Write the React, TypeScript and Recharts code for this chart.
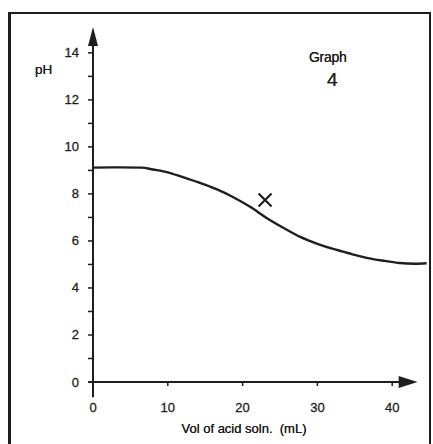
import React from "react";
import { LineChart, Line, XAxis, YAxis, ReferenceLine, ReferenceDot } from "recharts";

const volumes = [0, 3.5, 6.5, 8, 10, 12, 14.3, 16.5, 18.7, 21, 23.2, 25.5, 27.7, 30, 32.1, 34.5, 36.6, 39, 41, 43, 44.6];
const phValues = [9.12, 9.13, 9.12, 9.04, 8.92, 8.71, 8.47, 8.2, 7.87, 7.45, 6.98, 6.55, 6.17, 5.88, 5.66, 5.45, 5.28, 5.15, 5.06, 5.03, 5.05];
const xTicks = [0, 10, 20, 30, 40];
const yTicks = [0, 1, 2, 3, 4, 5, 6, 7, 8, 9, 10, 11, 12, 13, 14];
const markPoint = { x: 23.0, y: 7.74 };
const xArrowEnd = 43.4;
const yArrowEnd = 15.1;

const data = volumes.map((v, i) => ({ x: v, y: phValues[i] }));

const INK = "#1e1e1e";
const FONT = "'Liberation Sans', Arial, Helvetica, sans-serif";

const YTick = (props: any) => {
  const { x, y, payload } = props;
  const v = payload.value;
  return (
    <g>
      <line x1={x - 5} x2={x} y1={y} y2={y} stroke={INK} strokeWidth={1.5} />
      {v % 2 === 0 && (
        <text x={x - 14} y={y} dy={4.5} textAnchor="end" fontFamily={FONT} fontSize={13} fill={INK} stroke={INK} strokeWidth={0.3}>
          {v}
        </text>
      )}
    </g>
  );
};

const XTick = (props: any) => {
  const { x, y, payload } = props;
  return (
    <g>
      <line x1={x} x2={x} y1={y - 1} y2={y + 4} stroke={INK} strokeWidth={1.5} />
      <text x={x} y={y + 30} textAnchor="middle" fontFamily={FONT} fontSize={13} fill={INK} stroke={INK} strokeWidth={0.3}>
        {payload.value}
      </text>
    </g>
  );
};

const UpArrow = (props: any) => {
  const { cx, cy } = props;
  return <path d={`M${cx},${cy} L${cx - 5},${cy + 19} L${cx + 5},${cy + 19} Z`} fill={INK} />;
};

const RightArrow = (props: any) => {
  const { cx, cy } = props;
  return <path d={`M${cx},${cy} L${cx - 19},${cy - 6} L${cx - 19},${cy + 6} Z`} fill={INK} />;
};

const Cross = (props: any) => {
  const { cx, cy } = props;
  const s = 6.5;
  return (
    <path
      d={`M${cx - s},${cy - s} L${cx + s},${cy + s} M${cx + s},${cy - s} L${cx - s},${cy + s}`}
      stroke={INK}
      strokeWidth={2.2}
      fill="none"
    />
  );
};

const textShadow = `0 0 0.4px ${INK}`;

export default function App() {
  return (
    <div style={{ position: "absolute", left: 0, top: 0, width: 433, height: 444, background: "#fff", overflow: "hidden" }}>
      <div
        style={{
          position: "absolute",
          left: 8,
          top: 12,
          width: 418,
          height: 460,
          borderLeft: `3px solid ${INK}`,
          borderTop: `2.5px solid ${INK}`,
          borderRight: `2px solid ${INK}`,
        }}
      />
      <LineChart
        width={433}
        height={444}
        data={data}
        margin={{ top: 27, right: 3.4, bottom: 0, left: 0 }}
        style={{ position: "absolute", left: 0, top: 0 }}
      >
        <XAxis
          dataKey="x"
          type="number"
          domain={[0, 45]}
          ticks={xTicks}
          allowDataOverflow
          height={62}
          axisLine={false}
          tickLine={false}
          tickSize={0}
          tickMargin={0}
          tick={<XTick />}
          interval={0}
        />
        <YAxis
          type="number"
          domain={[0, yArrowEnd]}
          ticks={yTicks}
          allowDataOverflow
          width={93}
          axisLine={false}
          tickLine={false}
          tickSize={0}
          tickMargin={0}
          tick={<YTick />}
          interval={0}
        />
        <ReferenceLine
          segment={[{ x: -0.6, y: 0 }, { x: xArrowEnd - 1, y: 0 }]}
          stroke={INK}
          strokeWidth={2}
          ifOverflow="visible"
        />
        <ReferenceLine
          segment={[{ x: 0, y: -0.65 }, { x: 0, y: yArrowEnd - 0.5 }]}
          stroke={INK}
          strokeWidth={2}
          ifOverflow="visible"
        />
        <ReferenceDot x={xArrowEnd} y={0} r={1} shape={<RightArrow />} ifOverflow="visible" />
        <ReferenceDot x={0} y={yArrowEnd} r={1} shape={<UpArrow />} ifOverflow="visible" />
        <Line
          type="monotone"
          dataKey="y"
          stroke={INK}
          strokeWidth={2.4}
          dot={false}
          activeDot={false}
          isAnimationActive={false}
        />
        <ReferenceDot x={markPoint.x} y={markPoint.y} r={1} shape={<Cross />} ifOverflow="visible" />
      </LineChart>
      <div style={{ position: "absolute", left: 0, top: 421, width: 433, textAlign: "center", paddingLeft: 55, boxSizing: "border-box", fontFamily: FONT, fontSize: 13, color: INK, whiteSpace: "pre", textShadow }}>
        {"Vol of acid soln.  (mL)"}
      </div>
      <div style={{ position: "absolute", left: 35, top: 62, fontFamily: FONT, fontSize: 13.5, color: INK, textShadow }}>pH</div>
      <div style={{ position: "absolute", left: 309, top: 49, fontFamily: FONT, fontSize: 14, color: INK, letterSpacing: -0.3, textShadow }}>Graph</div>
      <div style={{ position: "absolute", left: 327, top: 69, fontFamily: FONT, fontSize: 19, color: INK, textShadow }}>4</div>
    </div>
  );
}
